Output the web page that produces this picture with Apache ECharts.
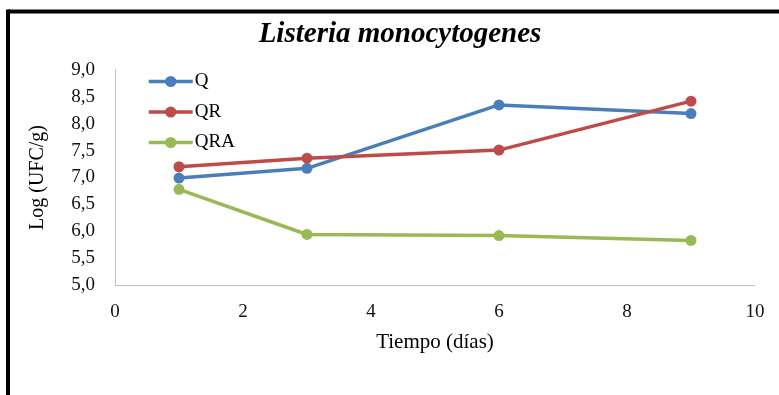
<!DOCTYPE html>
<html>
<head>
<meta charset="utf-8">
<script src="https://cdn.jsdelivr.net/npm/echarts@6/dist/echarts.min.js"></script>
<style>
  html, body { margin: 0; padding: 0; background: #fff; }
  #chart { width: 779px; height: 395px; }
</style>
</head>
<body>
<div id="chart"></div>
<script>
// Sampling days and log counts per treatment
const days = [1, 3, 6, 9];
const seriesNames = ['Q', 'QR', 'QRA'];
const valuesQ = [6.99, 7.17, 8.35, 8.19];
const valuesQR = [7.20, 7.36, 7.51, 8.42];
const valuesQRA = [6.78, 5.94, 5.92, 5.83];
const colors = ['#4A7EBB', '#BE4B48', '#98B954'];

const serif = '"Liberation Serif", "Times New Roman", serif';

function pairs(vals) {
  return days.map((d, i) => [d, vals[i]]);
}

const chart = echarts.init(document.getElementById('chart'), null, { renderer: 'canvas' });

chart.setOption({
  animation: false,
  backgroundColor: '#fff',
  title: {
    text: 'Listeria monocytogenes',
    left: 395,
    textAlign: 'center',
    top: 15,
    textStyle: {
      fontFamily: serif,
      fontSize: 29,
      fontStyle: 'italic',
      fontWeight: 'bold',
      color: '#000'
    }
  },
  graphic: [
    { type: 'line', shape: { x1: 8, y1: 11.5, x2: 779, y2: 11.5 }, style: { stroke: '#000', lineWidth: 4 } },
    { type: 'line', shape: { x1: 8, y1: 9.5, x2: 8, y2: 395 }, style: { stroke: '#000', lineWidth: 4 } }
  ],
  grid: { left: 115, right: 24, top: 70, bottom: 110 },
  legend: {
    orient: 'vertical',
    left: 142,
    top: 67,
    itemWidth: 44,
    itemHeight: 14,
    itemGap: 11.5,
    data: seriesNames,
    lineStyle: { width: 3.5 },
    textStyle: { fontFamily: serif, fontSize: 19, color: '#000', padding: [0, 0, 0, -3] }
  },
  xAxis: {
    type: 'value',
    min: 0,
    max: 10,
    interval: 2,
    name: 'Tiempo (días)',
    nameLocation: 'middle',
    nameGap: 47,
    nameTextStyle: { fontFamily: serif, fontSize: 21, color: '#000' },
    axisLine: { lineStyle: { color: '#BFBFBF', width: 1 } },
    axisTick: { show: false },
    splitLine: { show: false },
    axisLabel: { fontFamily: serif, fontSize: 19, color: '#111', margin: 18 }
  },
  yAxis: {
    type: 'value',
    min: 5,
    max: 9,
    interval: 0.5,
    name: 'Log (UFC/g)',
    nameLocation: 'middle',
    nameGap: 67,
    nameTextStyle: { fontFamily: serif, fontSize: 20, color: '#000' },
    axisLine: { show: true, lineStyle: { color: '#BFBFBF', width: 1 } },
    axisTick: { show: false },
    splitLine: { show: false },
    axisLabel: {
      fontFamily: serif,
      fontSize: 19,
      color: '#111',
      margin: 20,
      formatter: v => v.toFixed(1).replace('.', ',')
    }
  },
  series: [
    { name: 'Q', data: pairs(valuesQ) },
    { name: 'QR', data: pairs(valuesQR) },
    { name: 'QRA', data: pairs(valuesQRA) }
  ].map((s, i) => ({
    name: s.name,
    type: 'line',
    data: s.data,
    symbol: 'circle',
    symbolSize: 11,
    color: colors[i],
    lineStyle: { width: 3.5, color: colors[i] },
    itemStyle: { color: colors[i] }
  }))
});
</script>
</body>
</html>
